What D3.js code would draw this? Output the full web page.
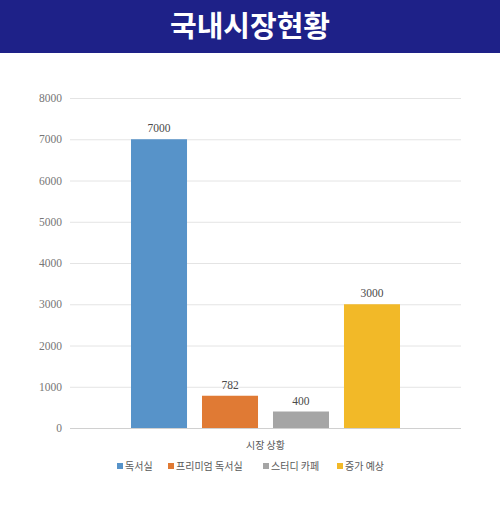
<!DOCTYPE html>
<html>
<head>
<meta charset="utf-8">
<script src="https://cdn.jsdelivr.net/npm/d3@7"></script>
<style>
body { margin: 0; background: #fff; }
svg { display: block; }
</style>
</head>
<body>
<script>
var title = "국내시장현황";
var category = "시장 상황";
var seriesNames = ["독서실", "프리미엄 독서실", "스터디 카페", "증가 예상"];
var seriesValues = [7000, 782, 400, 3000];
var seriesColors = ["#5793c9", "#e07a34", "#a5a5a5", "#f2b928"];
var yTicks = [0, 1000, 2000, 3000, 4000, 5000, 6000, 7000, 8000];

var w = 500;
var h = 514;
var numFont = "'Liberation Serif', 'DejaVu Serif', serif";
var krFont = "'Noto Sans CJK KR', sans-serif";

var svg = d3.select("body")
	.append("svg")
	.attr("width", w)
	.attr("height", h);

// header banner
svg.append("rect")
	.attr("x", 0)
	.attr("y", 0)
	.attr("width", w)
	.attr("height", 53)
	.attr("fill", "#1e2188");

svg.append("text")
	.attr("x", w / 2)
	.attr("y", 37)
	.attr("text-anchor", "middle")
	.style("font-family", krFont)
	.style("font-weight", "bold")
	.style("font-size", "29px")
	.attr("fill", "#fff")
	.text(title);

var x0 = d3.scaleBand()
	.domain([category])
	.range([70, 461]);

var x1 = d3.scaleBand()
	.domain(seriesNames)
	.range([131, 400])
	.paddingInner(0.211);

var yScale = d3.scaleLinear()
	.domain([0, 8000])
	.range([428, 98]);

// gridlines
svg.append("g")
	.selectAll("line")
	.data(yTicks)
	.enter()
	.append("line")
	.attr("x1", 70)
	.attr("x2", 461)
	.attr("y1", function(d){ return yScale(d) + 0.5; })
	.attr("y2", function(d){ return yScale(d) + 0.5; })
	.attr("stroke", function(d){ return d == 0 ? "#d0d0d0" : "#e4e4e4"; })
	.attr("stroke-width", 1);

var yAxis = d3.axisLeft(yScale)
	.tickValues(yTicks)
	.tickFormat(d3.format("d"))
	.tickSize(0)
	.tickPadding(8);

var yG = svg.append("g")
	.attr("transform", "translate(70,0)")
	.call(yAxis);
yG.select(".domain").remove();
yG.selectAll("text")
	.style("font-family", numFont)
	.style("font-size", "11.5px")
	.attr("fill", "#767676");

// bars
svg.append("g")
	.selectAll("rect")
	.data(seriesValues)
	.enter()
	.append("rect")
	.attr("x", function(d, i){ return x1(seriesNames[i]); })
	.attr("y", function(d){ return yScale(d); })
	.attr("width", x1.bandwidth())
	.attr("height", function(d){ return yScale(0) - yScale(d); })
	.attr("fill", function(d, i){ return seriesColors[i]; });

// value labels
svg.append("g")
	.selectAll("text")
	.data(seriesValues)
	.enter()
	.append("text")
	.attr("x", function(d, i){ return x1(seriesNames[i]) + x1.bandwidth() / 2; })
	.attr("y", function(d){ return yScale(d) - 7; })
	.attr("text-anchor", "middle")
	.style("font-family", numFont)
	.style("font-size", "11.5px")
	.attr("fill", "#4a4a4a")
	.text(function(d){ return d; });

// category label
svg.append("text")
	.attr("x", x0(category) + x0.bandwidth() / 2)
	.attr("y", 449)
	.attr("text-anchor", "middle")
	.style("font-family", krFont)
	.style("font-size", "10px")
	.attr("fill", "#595959")
	.text(category);

// legend
var legendX = [117, 168, 263, 337];
var legend = svg.append("g")
	.selectAll("g")
	.data(seriesNames)
	.enter()
	.append("g")
	.attr("transform", function(d, i){ return "translate(" + legendX[i] + ",466)"; });

legend.append("rect")
	.attr("x", 0)
	.attr("y", -3)
	.attr("width", 6)
	.attr("height", 6)
	.attr("fill", function(d, i){ return seriesColors[i]; });

legend.append("text")
	.attr("x", 8)
	.attr("y", 4)
	.style("font-family", krFont)
	.style("font-size", "10px")
	.attr("fill", "#595959")
	.text(function(d){ return d; });
</script>
</body>
</html>
